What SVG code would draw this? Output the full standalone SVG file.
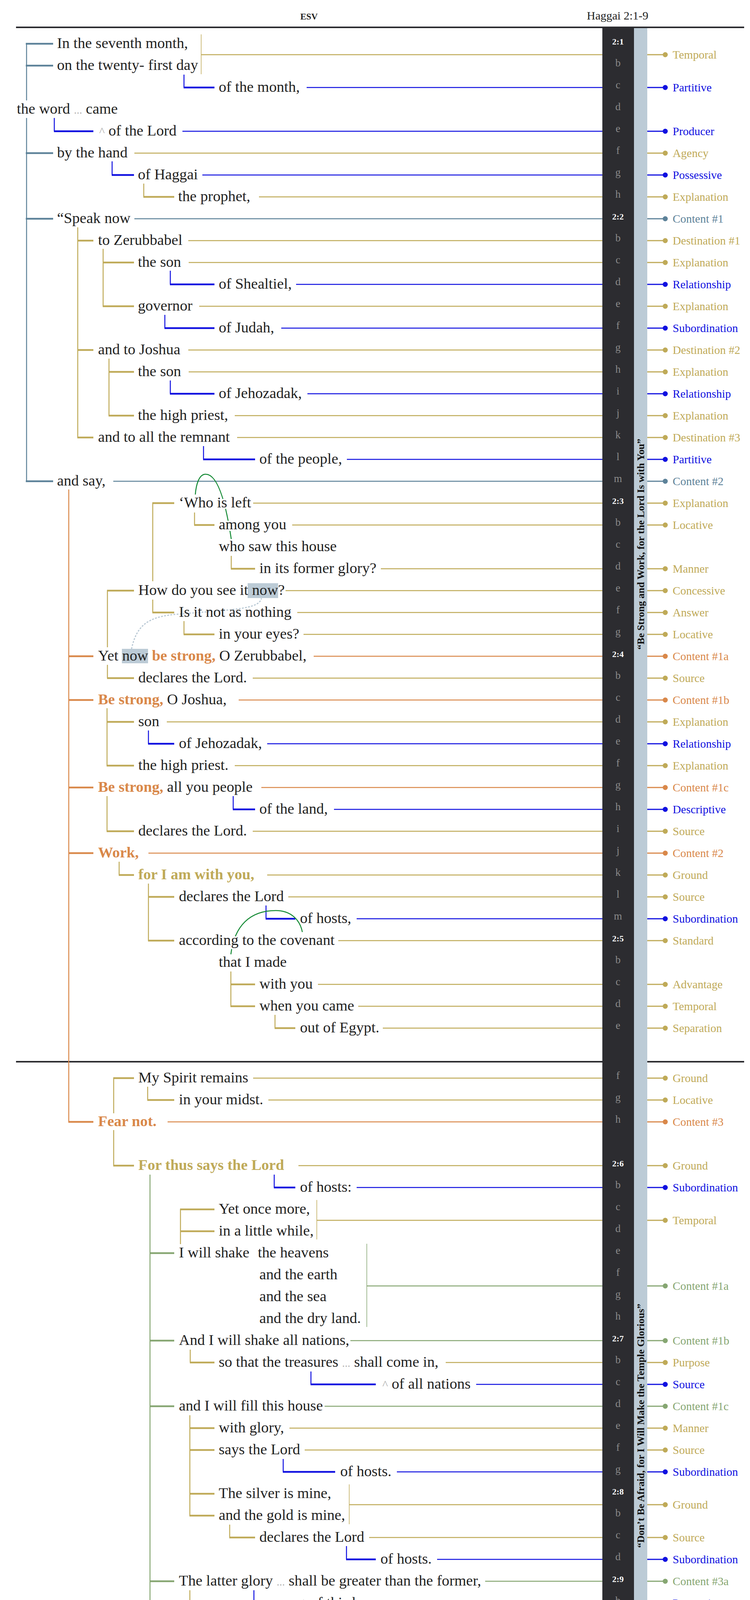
<svg xmlns="http://www.w3.org/2000/svg" width="1920" height="4600" viewBox="0 0 1920 4600">
<defs>
<style>
.t{font-family:"Liberation Serif","Times New Roman",serif;font-size:38.7px;fill:#222}
.b{font-weight:bold}
.fo{fill:#d9884a}.fg{fill:#bfaa58}
.gr{fill:#aaa;font-size:28px}
.car{fill:#aaa;font-size:30px}
.halo{stroke:#fff;stroke-width:8;stroke-linejoin:round;paint-order:stroke}
.lb{font-family:"Liberation Serif","Times New Roman",serif;font-size:29.5px}
.vl{font-family:"Liberation Serif","Times New Roman",serif;font-size:27px;fill:#8a8a8a;text-anchor:middle}
.vn{font-family:"Liberation Serif","Times New Roman",serif;font-size:22px;font-weight:bold;fill:#fff;text-anchor:middle}
.ttl{font-family:"Liberation Serif","Times New Roman",serif;font-size:26px;font-weight:bold;fill:#111;text-anchor:middle}
.hd{font-family:"Liberation Serif","Times New Roman",serif;fill:#222}
line,path{fill:none}
.ln{stroke-width:2.5}
.st{stroke-width:4.5}
.v{stroke-width:2.5}
.br{stroke-width:1.5}
.s-steel{stroke:#5d8299}.s-gold{stroke:#bfaa58}.s-blue{stroke:#1010e0}.s-orange{stroke:#d9884a}.s-sage{stroke:#86a672}
.f-steel{fill:#5d8299}.f-gold{fill:#bfaa58}.f-blue{fill:#1010e0}.f-orange{fill:#d9884a}.f-sage{fill:#86a672}
</style>
<marker id="a-steel" viewBox="0 0 14 10" refX="12" refY="5" markerWidth="14" markerHeight="10" markerUnits="userSpaceOnUse" orient="auto"><path d="M0,0 L14,5 L0,10 L3,5 z" fill="#5d8299"/></marker>
<marker id="a-gold" viewBox="0 0 14 10" refX="12" refY="5" markerWidth="14" markerHeight="10" markerUnits="userSpaceOnUse" orient="auto"><path d="M0,0 L14,5 L0,10 L3,5 z" fill="#bfaa58"/></marker>
<marker id="a-blue" viewBox="0 0 14 10" refX="12" refY="5" markerWidth="14" markerHeight="10" markerUnits="userSpaceOnUse" orient="auto"><path d="M0,0 L14,5 L0,10 L3,5 z" fill="#1010e0"/></marker>
<marker id="a-orange" viewBox="0 0 14 10" refX="12" refY="5" markerWidth="14" markerHeight="10" markerUnits="userSpaceOnUse" orient="auto"><path d="M0,0 L14,5 L0,10 L3,5 z" fill="#d9884a"/></marker>
<marker id="a-sage" viewBox="0 0 14 10" refX="12" refY="5" markerWidth="14" markerHeight="10" markerUnits="userSpaceOnUse" orient="auto"><path d="M0,0 L14,5 L0,10 L3,5 z" fill="#86a672"/></marker>
<marker id="a-green" viewBox="0 0 14 10" refX="12" refY="5" markerWidth="14" markerHeight="10" markerUnits="userSpaceOnUse" orient="auto"><path d="M0,0 L14,5 L0,10 L3,5 z" fill="#158a35"/></marker>
<marker id="a-light" viewBox="0 0 14 10" refX="12" refY="5" markerWidth="14" markerHeight="10" markerUnits="userSpaceOnUse" orient="auto"><path d="M0,0 L14,5 L0,10 L3,5 z" fill="#b8c8d4"/></marker>
</defs>
<rect width="1920" height="4600" fill="#fff"/>

<g id="frame">
<text class="hd b" x="791" y="50" font-size="23" text-anchor="middle">ESV</text>
<text class="hd" x="1581" y="50" font-size="30" text-anchor="middle">Haggai 2:1-9</text>
<line x1="41" y1="70" x2="1905" y2="70" stroke="#2c2c30" stroke-width="4"/>
<line x1="41" y1="2718" x2="1905" y2="2718" stroke="#2c2c30" stroke-width="4"/>
<rect x="1542" y="72" width="81" height="4508" fill="#2c2c30"/>
<rect x="1623" y="72" width="34" height="4508" fill="#bccbd6"/>
<text class="ttl" transform="translate(1640,1393) rotate(-90)" x="0" y="8.5" textLength="540" lengthAdjust="spacingAndGlyphs">“Be Strong and Work, for the Lord Is with You”</text>
<text class="ttl" transform="translate(1640,3650) rotate(-90)" x="0" y="8.5" textLength="625" lengthAdjust="spacingAndGlyphs">“Don’t Be Afraid, for I Will Make the Temple Glorious”</text>
</g>

<g id="connectors">
<path class="v s-steel" d="M68,110 L68,257" marker-end="url(#a-steel)"/>
<path class="v s-steel" d="M68,1233 L68,302" marker-end="url(#a-steel)"/>
<path class="st s-steel" d="M66,112 H136 M66,168 H136 M66,392 H136 M66,560 H136 M66,1232 H136"/>
<path class="ln s-steel" d="M344,560 H1542 M290,1232 H1542"/>
<path class="br s-gold" d="M515,88 V190"/>
<path class="ln s-gold" d="M515,140 H1542"/>
<path class="v s-blue" d="M471,224 L471,191" marker-end="url(#a-blue)"/>
<path class="st s-blue" d="M470,224 H549"/>
<path class="ln s-blue" d="M785,224 H1542"/>
<path class="v s-blue" d="M139,336 L139,302" marker-end="url(#a-blue)"/>
<path class="st s-blue" d="M138,336 H239"/>
<path class="ln s-blue" d="M467,336 H1542"/>
<path class="ln s-gold" d="M344,392 H1542"/>
<path class="v s-blue" d="M287,448 L287,413" marker-end="url(#a-blue)"/>
<path class="st s-blue" d="M286,448 H343"/>
<path class="ln s-blue" d="M518,448 H1542"/>
<path class="v s-gold" d="M368,504 L368,470" marker-end="url(#a-gold)"/>
<path class="st s-gold" d="M367,504 H446"/>
<path class="ln s-gold" d="M663,504 H1542"/>
<path class="v s-gold" d="M199,1121 L199,582" marker-end="url(#a-gold)"/>
<path class="st s-gold" d="M198,616 H239 M198,896 H239 M198,1120 H239"/>
<path class="ln s-gold" d="M482,616 H1542"/>
<path class="v s-gold" d="M264,785 L264,637" marker-end="url(#a-gold)"/>
<path class="st s-gold" d="M263,672 H343 M263,784 H343"/>
<path class="ln s-gold" d="M483,672 H1542"/>
<path class="v s-blue" d="M436,728 L436,693" marker-end="url(#a-blue)"/>
<path class="st s-blue" d="M435,728 H549"/>
<path class="ln s-blue" d="M758,728 H1542"/>
<path class="ln s-gold" d="M510,784 H1542"/>
<path class="v s-blue" d="M422,840 L422,806" marker-end="url(#a-blue)"/>
<path class="st s-blue" d="M421,840 H549"/>
<path class="ln s-blue" d="M720,840 H1542"/>
<path class="ln s-gold" d="M482,896 H1542"/>
<path class="v s-gold" d="M279,1065 L279,918" marker-end="url(#a-gold)"/>
<path class="st s-gold" d="M278,952 H343 M278,1064 H343"/>
<path class="ln s-gold" d="M483,952 H1542"/>
<path class="v s-blue" d="M436,1008 L436,974" marker-end="url(#a-blue)"/>
<path class="st s-blue" d="M435,1008 H549"/>
<path class="ln s-blue" d="M787,1008 H1542"/>
<path class="ln s-gold" d="M601,1064 H1542"/>
<path class="ln s-gold" d="M607,1120 H1542"/>
<path class="v s-blue" d="M521,1176 L521,1142" marker-end="url(#a-blue)"/>
<path class="st s-blue" d="M520,1176 H653"/>
<path class="ln s-blue" d="M888,1176 H1542"/>
<path class="v s-orange" d="M176,2873 L176,1253" marker-end="url(#a-orange)"/>
<path class="st s-orange" d="M175,1680 H239 M175,1792 H239 M175,2016 H239 M175,2184 H239 M175,2872 H239"/>
<path class="v s-gold" d="M391,1287 L391,1488" marker-end="url(#a-gold)"/>
<path class="st s-gold" d="M390,1288 H446"/>
<path class="ln s-gold" d="M648,1288 H1542"/>
<path class="v s-gold" d="M498,1344 L498,1312" marker-end="url(#a-gold)"/>
<path class="st s-gold" d="M497,1344 H549"/>
<path class="ln s-gold" d="M748,1344 H1542"/>
<path d="M592,1380 C580,1300 560,1215 527,1214 C510,1213 502,1240 500,1266" stroke="#158a35" stroke-width="2.5" marker-end="url(#a-green)"/>
<path class="v s-gold" d="M592,1456 L592,1423" marker-end="url(#a-gold)"/>
<path class="st s-gold" d="M591,1456 H653"/>
<path class="ln s-gold" d="M975,1456 H1542"/>
<path class="v s-gold" d="M275,1511 L275,1657" marker-end="url(#a-gold)"/>
<path class="st s-gold" d="M274,1512 H343"/>
<path class="ln s-gold" d="M731,1512 H1542"/>
<path class="v s-gold" d="M391,1568 L391,1535" marker-end="url(#a-gold)"/>
<path class="st s-gold" d="M390,1568 H446"/>
<path class="ln s-gold" d="M761,1568 H1542"/>
<path class="v s-gold" d="M471,1624 L471,1590" marker-end="url(#a-gold)"/>
<path class="st s-gold" d="M470,1624 H549"/>
<path class="ln s-gold" d="M777,1624 H1542"/>
<path d="M337,1660 C350,1600 380,1580 446,1573 C600,1560 660,1560 669,1533" stroke="#b8c8d4" stroke-width="3" stroke-dasharray="2,6" stroke-linecap="round" marker-end="url(#a-light)"/>
<path class="ln s-orange" d="M803,1680 H1542"/>
<path class="v s-gold" d="M275,1736 L275,1702" marker-end="url(#a-gold)"/>
<path class="st s-gold" d="M274,1736 H343"/>
<path class="ln s-gold" d="M647,1736 H1542"/>
<path class="ln s-orange" d="M611,1792 H1542"/>
<path class="v s-gold" d="M274,1961 L274,1813" marker-end="url(#a-gold)"/>
<path class="st s-gold" d="M273,1848 H343 M273,1960 H343"/>
<path class="ln s-gold" d="M427,1848 H1542"/>
<path class="v s-blue" d="M380,1904 L380,1870" marker-end="url(#a-blue)"/>
<path class="st s-blue" d="M379,1904 H446"/>
<path class="ln s-blue" d="M684,1904 H1542"/>
<path class="ln s-gold" d="M601,1960 H1542"/>
<path class="ln s-orange" d="M669,2016 H1542"/>
<path class="v s-blue" d="M597,2072 L597,2038" marker-end="url(#a-blue)"/>
<path class="st s-blue" d="M596,2072 H653"/>
<path class="ln s-blue" d="M855,2072 H1542"/>
<path class="v s-gold" d="M274,2128 L274,2038" marker-end="url(#a-gold)"/>
<path class="st s-gold" d="M273,2128 H343"/>
<path class="ln s-gold" d="M647,2128 H1542"/>
<path class="ln s-orange" d="M380,2184 H1542"/>
<path class="v s-gold" d="M305,2240 L305,2206" marker-end="url(#a-gold)"/>
<path class="st s-gold" d="M304,2240 H343"/>
<path class="ln s-gold" d="M684,2240 H1542"/>
<path class="v s-gold" d="M380,2409 L380,2262" marker-end="url(#a-gold)"/>
<path class="st s-gold" d="M379,2296 H446 M379,2408 H446"/>
<path class="ln s-gold" d="M738,2296 H1542"/>
<path class="v s-blue" d="M681,2352 L681,2318" marker-end="url(#a-blue)"/>
<path class="st s-blue" d="M680,2352 H756"/>
<path class="ln s-blue" d="M913,2352 H1542"/>
<path d="M591,2443 C600,2370 640,2331 706,2331 C745,2331 768,2355 774,2386" stroke="#158a35" stroke-width="2.5" marker-end="url(#a-green)"/>
<path class="ln s-gold" d="M866,2408 H1542"/>
<path class="v s-gold" d="M591,2577 L591,2487" marker-end="url(#a-gold)"/>
<path class="st s-gold" d="M590,2520 H653 M590,2576 H653"/>
<path class="ln s-gold" d="M814,2520 H1542"/>
<path class="ln s-gold" d="M917,2576 H1542"/>
<path class="v s-gold" d="M704,2632 L704,2598" marker-end="url(#a-gold)"/>
<path class="st s-gold" d="M703,2632 H756"/>
<path class="ln s-gold" d="M980,2632 H1542"/>
<path class="v s-gold" d="M291,2759 L291,2850" marker-end="url(#a-gold)"/>
<path class="st s-gold" d="M290,2760 H343"/>
<path class="ln s-gold" d="M648,2760 H1542"/>
<path class="v s-gold" d="M378,2816 L378,2782" marker-end="url(#a-gold)"/>
<path class="st s-gold" d="M377,2816 H446"/>
<path class="ln s-gold" d="M687,2816 H1542"/>
<path class="ln s-orange" d="M429,2872 H1542"/>
<path class="v s-gold" d="M291,2985 L291,2893" marker-end="url(#a-gold)"/>
<path class="st s-gold" d="M290,2984 H343"/>
<path class="ln s-gold" d="M764,2984 H1542"/>
<path class="v s-blue" d="M702,3040 L702,3007" marker-end="url(#a-blue)"/>
<path class="st s-blue" d="M701,3040 H756"/>
<path class="ln s-blue" d="M913,3040 H1542"/>
<path class="v s-sage" d="M384,4329 L384,3007" marker-end="url(#a-sage)"/>
<path class="st s-sage" d="M383,3208 H446 M383,3432 H446 M383,3600 H446 M383,4048 H446 M383,4328 H446"/>
<path class="v s-gold" d="M462,3095 L462,3185" marker-end="url(#a-gold)"/>
<path class="st s-gold" d="M461,3096 H549 M461,3152 H549"/>
<path class="br s-gold" d="M811,3072 V3173"/>
<path class="ln s-gold" d="M811,3124 H1542"/>
<path class="br s-sage" d="M939,3184 V3397"/>
<path class="ln s-sage" d="M939,3292 H1542"/>
<path class="ln s-sage" d="M897,3432 H1542"/>
<path class="v s-gold" d="M487,3488 L487,3455" marker-end="url(#a-gold)"/>
<path class="st s-gold" d="M486,3488 H549"/>
<path class="ln s-gold" d="M1141,3488 H1542"/>
<path class="v s-blue" d="M796,3544 L796,3511" marker-end="url(#a-blue)"/>
<path class="st s-blue" d="M795,3544 H962"/>
<path class="ln s-blue" d="M1219,3544 H1542"/>
<path class="ln s-sage" d="M831,3600 H1542"/>
<path class="v s-gold" d="M486,3881 L486,3623" marker-end="url(#a-gold)"/>
<path class="st s-gold" d="M485,3656 H549 M485,3712 H549 M485,3824 H549 M485,3880 H549"/>
<path class="ln s-gold" d="M741,3656 H1542"/>
<path class="ln s-gold" d="M780,3712 H1542"/>
<path class="v s-blue" d="M725,3768 L725,3735" marker-end="url(#a-blue)"/>
<path class="st s-blue" d="M724,3768 H858"/>
<path class="ln s-blue" d="M1016,3768 H1542"/>
<path class="br s-gold" d="M894,3800 V3902"/>
<path class="ln s-gold" d="M894,3852 H1542"/>
<path class="v s-gold" d="M588,3936 L588,3903" marker-end="url(#a-gold)"/>
<path class="st s-gold" d="M587,3936 H653"/>
<path class="ln s-gold" d="M945,3936 H1542"/>
<path class="v s-blue" d="M887,3992 L887,3958" marker-end="url(#a-blue)"/>
<path class="st s-blue" d="M886,3992 H962"/>
<path class="ln s-blue" d="M1119,3992 H1542"/>
<path class="ln s-sage" d="M1242,4048 H1542"/>
<path class="v s-blue" d="M650,4104 L650,4071" marker-end="url(#a-blue)"/>
<path class="st s-blue" d="M649,4104 H756"/>
<path class="ln s-blue" d="M1010,4104 H1542"/>
<path class="v s-gold" d="M486,4160 L486,4071" marker-end="url(#a-gold)"/>
<path class="st s-gold" d="M485,4160 H549"/>
<path class="ln s-gold" d="M780,4160 H1542"/>
<path class="v s-blue" d="M725,4216 L725,4182" marker-end="url(#a-blue)"/>
<path class="st s-blue" d="M724,4216 H858"/>
<path class="ln s-blue" d="M1016,4216 H1542"/>
<path class="ln s-sage" d="M834,4328 H1542"/>
<path class="v s-gold" d="M487,4441 L487,4352" marker-end="url(#a-gold)"/>
<path class="st s-gold" d="M486,4384 H549 M486,4440 H549"/>
<path class="ln s-gold" d="M793,4384 H1542"/>
<path class="ln s-gold" d="M841,4440 H1542"/>
<path class="v s-blue" d="M784,4496 L784,4463" marker-end="url(#a-blue)"/>
<path class="st s-blue" d="M783,4496 H858"/>
<path class="ln s-blue" d="M1038,4496 H1542"/>
<g id="ticks" stroke-width="3">
<path class="s-gold" d="M1657,140 H1703 M1657,392 H1703 M1657,504 H1703 M1657,616 H1703 M1657,672 H1703 M1657,784 H1703 M1657,896 H1703 M1657,952 H1703 M1657,1064 H1703 M1657,1120 H1703 M1657,1288 H1703 M1657,1344 H1703 M1657,1456 H1703 M1657,1512 H1703 M1657,1568 H1703 M1657,1624 H1703 M1657,1736 H1703 M1657,1848 H1703 M1657,1960 H1703 M1657,2128 H1703 M1657,2240 H1703 M1657,2296 H1703 M1657,2408 H1703 M1657,2520 H1703 M1657,2576 H1703 M1657,2632 H1703 M1657,2760 H1703 M1657,2816 H1703 M1657,2984 H1703 M1657,3124 H1703 M1657,3488 H1703 M1657,3656 H1703 M1657,3712 H1703 M1657,3852 H1703 M1657,3936 H1703 M1657,4160 H1703 M1657,4384 H1703 M1657,4440 H1703"/>
<path class="s-blue" d="M1657,224 H1703 M1657,336 H1703 M1657,448 H1703 M1657,728 H1703 M1657,840 H1703 M1657,1008 H1703 M1657,1176 H1703 M1657,1904 H1703 M1657,2072 H1703 M1657,2352 H1703 M1657,3040 H1703 M1657,3544 H1703 M1657,3768 H1703 M1657,3992 H1703 M1657,4104 H1703 M1657,4216 H1703 M1657,4496 H1703"/>
<path class="s-steel" d="M1657,560 H1703 M1657,1232 H1703"/>
<path class="s-orange" d="M1657,1680 H1703 M1657,1792 H1703 M1657,2016 H1703 M1657,2184 H1703 M1657,2872 H1703"/>
<path class="s-sage" d="M1657,3292 H1703 M1657,3432 H1703 M1657,3600 H1703 M1657,4048 H1703 M1657,4328 H1703"/>
</g>
<g id="dots">
<g class="f-gold"><circle cx="1703" cy="140" r="6.5"/><circle cx="1703" cy="392" r="6.5"/><circle cx="1703" cy="504" r="6.5"/><circle cx="1703" cy="616" r="6.5"/><circle cx="1703" cy="672" r="6.5"/><circle cx="1703" cy="784" r="6.5"/><circle cx="1703" cy="896" r="6.5"/><circle cx="1703" cy="952" r="6.5"/><circle cx="1703" cy="1064" r="6.5"/><circle cx="1703" cy="1120" r="6.5"/><circle cx="1703" cy="1288" r="6.5"/><circle cx="1703" cy="1344" r="6.5"/><circle cx="1703" cy="1456" r="6.5"/><circle cx="1703" cy="1512" r="6.5"/><circle cx="1703" cy="1568" r="6.5"/><circle cx="1703" cy="1624" r="6.5"/><circle cx="1703" cy="1736" r="6.5"/><circle cx="1703" cy="1848" r="6.5"/><circle cx="1703" cy="1960" r="6.5"/><circle cx="1703" cy="2128" r="6.5"/><circle cx="1703" cy="2240" r="6.5"/><circle cx="1703" cy="2296" r="6.5"/><circle cx="1703" cy="2408" r="6.5"/><circle cx="1703" cy="2520" r="6.5"/><circle cx="1703" cy="2576" r="6.5"/><circle cx="1703" cy="2632" r="6.5"/><circle cx="1703" cy="2760" r="6.5"/><circle cx="1703" cy="2816" r="6.5"/><circle cx="1703" cy="2984" r="6.5"/><circle cx="1703" cy="3124" r="6.5"/><circle cx="1703" cy="3488" r="6.5"/><circle cx="1703" cy="3656" r="6.5"/><circle cx="1703" cy="3712" r="6.5"/><circle cx="1703" cy="3852" r="6.5"/><circle cx="1703" cy="3936" r="6.5"/><circle cx="1703" cy="4160" r="6.5"/><circle cx="1703" cy="4384" r="6.5"/><circle cx="1703" cy="4440" r="6.5"/></g>
<g class="f-blue"><circle cx="1703" cy="224" r="6.5"/><circle cx="1703" cy="336" r="6.5"/><circle cx="1703" cy="448" r="6.5"/><circle cx="1703" cy="728" r="6.5"/><circle cx="1703" cy="840" r="6.5"/><circle cx="1703" cy="1008" r="6.5"/><circle cx="1703" cy="1176" r="6.5"/><circle cx="1703" cy="1904" r="6.5"/><circle cx="1703" cy="2072" r="6.5"/><circle cx="1703" cy="2352" r="6.5"/><circle cx="1703" cy="3040" r="6.5"/><circle cx="1703" cy="3544" r="6.5"/><circle cx="1703" cy="3768" r="6.5"/><circle cx="1703" cy="3992" r="6.5"/><circle cx="1703" cy="4104" r="6.5"/><circle cx="1703" cy="4216" r="6.5"/><circle cx="1703" cy="4496" r="6.5"/></g>
<g class="f-steel"><circle cx="1703" cy="560" r="6.5"/><circle cx="1703" cy="1232" r="6.5"/></g>
<g class="f-orange"><circle cx="1703" cy="1680" r="6.5"/><circle cx="1703" cy="1792" r="6.5"/><circle cx="1703" cy="2016" r="6.5"/><circle cx="1703" cy="2184" r="6.5"/><circle cx="1703" cy="2872" r="6.5"/></g>
<g class="f-sage"><circle cx="1703" cy="3292" r="6.5"/><circle cx="1703" cy="3432" r="6.5"/><circle cx="1703" cy="3600" r="6.5"/><circle cx="1703" cy="4048" r="6.5"/><circle cx="1703" cy="4328" r="6.5"/></g>
</g>
</g>

<g id="highlights">
<rect x="634" y="1493" width="78" height="38" fill="#bccbd6"/>
<rect x="312" y="1661" width="67" height="37" fill="#bccbd6"/>
</g>

<g id="nodes">
<g id="n2-1a"><text class="t" x="146" y="123">In the seventh month,</text></g>
<g id="n2-1b"><text class="t" x="146" y="179">on the twenty- first day</text></g>
<g id="n2-1c"><text class="t" x="560" y="235">of the month,</text></g>
<g id="n2-1d"><text class="t" x="43" y="291">the word <tspan class="gr">...</tspan> came</text></g>
<g id="n2-1e"><text class="t" x="254" y="347"><tspan class="car">^</tspan> of the Lord</text></g>
<g id="n2-1f"><text class="t" x="146" y="403">by the hand</text></g>
<g id="n2-1g"><text class="t" x="353" y="459">of Haggai</text></g>
<g id="n2-1h"><text class="t" x="456" y="515">the prophet,</text></g>
<g id="n2-2a"><text class="t" x="146" y="571">“Speak now</text></g>
<g id="n2-2b"><text class="t" x="251" y="627">to Zerubbabel</text></g>
<g id="n2-2c"><text class="t" x="353" y="683">the son</text></g>
<g id="n2-2d"><text class="t" x="560" y="739">of Shealtiel,</text></g>
<g id="n2-2e"><text class="t" x="353" y="795">governor</text></g>
<g id="n2-2f"><text class="t" x="560" y="851">of Judah,</text></g>
<g id="n2-2g"><text class="t" x="251" y="907">and to Joshua</text></g>
<g id="n2-2h"><text class="t" x="353" y="963">the son</text></g>
<g id="n2-2i"><text class="t" x="560" y="1019">of Jehozadak,</text></g>
<g id="n2-2j"><text class="t" x="353" y="1075">the high priest,</text></g>
<g id="n2-2k"><text class="t" x="251" y="1131">and to all the remnant</text></g>
<g id="n2-2l"><text class="t" x="664" y="1187">of the people,</text></g>
<g id="n2-2m"><text class="t" x="146" y="1243">and say,</text></g>
<g id="n2-3a"><text class="t halo" x="458" y="1299">‘Who is left</text></g>
<g id="n2-3b"><text class="t halo" x="560" y="1355">among you</text></g>
<g id="n2-3c"><text class="t" x="560" y="1411">who saw this house</text></g>
<g id="n2-3d"><text class="t" x="664" y="1467">in its former glory?</text></g>
<g id="n2-3e"><text class="t" x="354" y="1523">How do you see it now?</text></g>
<g id="n2-3f"><text class="t" x="458" y="1579">Is it not as nothing</text></g>
<g id="n2-3g"><text class="t" x="560" y="1635">in your eyes?</text></g>
<g id="n2-4a"><text class="t" x="251" y="1691">Yet now <tspan class="b fo">be strong,</tspan> O Zerubbabel,</text></g>
<g id="n2-4b"><text class="t" x="354" y="1747">declares the Lord.</text></g>
<g id="n2-4c"><text class="t" x="251" y="1803"><tspan class="b fo">Be strong,</tspan> O Joshua,</text></g>
<g id="n2-4d"><text class="t" x="354" y="1859">son</text></g>
<g id="n2-4e"><text class="t" x="458" y="1915">of Jehozadak,</text></g>
<g id="n2-4f"><text class="t" x="354" y="1971">the high priest.</text></g>
<g id="n2-4g"><text class="t" x="251" y="2027"><tspan class="b fo">Be strong,</tspan> all you people</text></g>
<g id="n2-4h"><text class="t" x="664" y="2083">of the land,</text></g>
<g id="n2-4i"><text class="t" x="354" y="2139">declares the Lord.</text></g>
<g id="n2-4j"><text class="t b fo" x="251" y="2195">Work,</text></g>
<g id="n2-4k"><text class="t b fg" x="354" y="2251">for I am with you,</text></g>
<g id="n2-4l"><text class="t" x="458" y="2307">declares the Lord</text></g>
<g id="n2-4m"><text class="t halo" x="768" y="2363">of hosts,</text></g>
<g id="n2-5a"><text class="t halo" x="458" y="2419">according to the covenant</text></g>
<g id="n2-5b"><text class="t" x="560" y="2475">that I made</text></g>
<g id="n2-5c"><text class="t" x="664" y="2531">with you</text></g>
<g id="n2-5d"><text class="t" x="664" y="2587">when you came</text></g>
<g id="n2-5e"><text class="t" x="768" y="2643">out of Egypt.</text></g>
<g id="n2-5f"><text class="t" x="354" y="2771">My Spirit remains</text></g>
<g id="n2-5g"><text class="t" x="458" y="2827">in your midst.</text></g>
<g id="n2-5h"><text class="t b fo" x="251" y="2883">Fear not.</text></g>
<g id="n2-6a"><text class="t b fg" x="354" y="2995">For thus says the Lord</text></g>
<g id="n2-6b"><text class="t" x="768" y="3051">of hosts:</text></g>
<g id="n2-6c"><text class="t" x="560" y="3107">Yet once more,</text></g>
<g id="n2-6d"><text class="t" x="560" y="3163">in a little while,</text></g>
<g id="n2-6e"><text class="t" x="458" y="3219">I will shake</text><text class="t" x="660" y="3219">the heavens</text></g>
<g id="n2-6f"><text class="t" x="664" y="3275">and the earth</text></g>
<g id="n2-6g"><text class="t" x="664" y="3331">and the sea</text></g>
<g id="n2-6h"><text class="t" x="664" y="3387">and the dry land.</text></g>
<g id="n2-7a"><text class="t" x="458" y="3443">And I will shake all nations,</text></g>
<g id="n2-7b"><text class="t" x="560" y="3499">so that the treasures <tspan class="gr">...</tspan> shall come in,</text></g>
<g id="n2-7c"><text class="t" x="979" y="3555"><tspan class="car">^</tspan> of all nations</text></g>
<g id="n2-7d"><text class="t" x="458" y="3611">and I will fill this house</text></g>
<g id="n2-7e"><text class="t" x="560" y="3667">with glory,</text></g>
<g id="n2-7f"><text class="t" x="560" y="3723">says the Lord</text></g>
<g id="n2-7g"><text class="t" x="871" y="3779">of hosts.</text></g>
<g id="n2-8a"><text class="t" x="560" y="3835">The silver is mine,</text></g>
<g id="n2-8b"><text class="t" x="560" y="3891">and the gold is mine,</text></g>
<g id="n2-8c"><text class="t" x="664" y="3947">declares the Lord</text></g>
<g id="n2-8d"><text class="t" x="974" y="4003">of hosts.</text></g>
<g id="n2-9a"><text class="t" x="458" y="4059">The latter glory <tspan class="gr">...</tspan> shall be greater than the former,</text></g>
<g id="n2-9b"><text class="t" x="770" y="4115"><tspan class="car">^</tspan> of this house</text></g>
<g id="n2-9c"><text class="t" x="560" y="4171">says the Lord</text></g>
<g id="n2-9d"><text class="t" x="871" y="4227">of hosts.</text></g>
<g id="n2-9e"><text class="t" x="458" y="4339">And <tspan class="gr">...</tspan> I will give peace,</text></g>
<g id="n2-9f"><text class="t" x="564" y="4395"><tspan class="car">^</tspan> in this place</text></g>
<g id="n2-9g"><text class="t" x="560" y="4451">declares the Lord</text></g>
<g id="n2-9h"><text class="t" x="871" y="4507">of hosts.’”</text></g>
</g>

<g id="verse-labels">
<text class="vn" x="1582" y="114">2:1</text>
<text class="vl" x="1582" y="170">b</text><text class="vl" x="1582" y="226">c</text><text class="vl" x="1582" y="282">d</text><text class="vl" x="1582" y="338">e</text><text class="vl" x="1582" y="394">f</text><text class="vl" x="1582" y="450">g</text><text class="vl" x="1582" y="506">h</text>
<text class="vn" x="1582" y="562">2:2</text>
<text class="vl" x="1582" y="618">b</text><text class="vl" x="1582" y="674">c</text><text class="vl" x="1582" y="730">d</text><text class="vl" x="1582" y="786">e</text><text class="vl" x="1582" y="842">f</text><text class="vl" x="1582" y="898">g</text><text class="vl" x="1582" y="954">h</text><text class="vl" x="1582" y="1010">i</text><text class="vl" x="1582" y="1066">j</text><text class="vl" x="1582" y="1122">k</text><text class="vl" x="1582" y="1178">l</text><text class="vl" x="1582" y="1234">m</text>
<text class="vn" x="1582" y="1290">2:3</text>
<text class="vl" x="1582" y="1346">b</text><text class="vl" x="1582" y="1402">c</text><text class="vl" x="1582" y="1458">d</text><text class="vl" x="1582" y="1514">e</text><text class="vl" x="1582" y="1570">f</text><text class="vl" x="1582" y="1626">g</text>
<text class="vn" x="1582" y="1682">2:4</text>
<text class="vl" x="1582" y="1738">b</text><text class="vl" x="1582" y="1794">c</text><text class="vl" x="1582" y="1850">d</text><text class="vl" x="1582" y="1906">e</text><text class="vl" x="1582" y="1962">f</text><text class="vl" x="1582" y="2018">g</text><text class="vl" x="1582" y="2074">h</text><text class="vl" x="1582" y="2130">i</text><text class="vl" x="1582" y="2186">j</text><text class="vl" x="1582" y="2242">k</text><text class="vl" x="1582" y="2298">l</text><text class="vl" x="1582" y="2354">m</text>
<text class="vn" x="1582" y="2410">2:5</text>
<text class="vl" x="1582" y="2466">b</text><text class="vl" x="1582" y="2522">c</text><text class="vl" x="1582" y="2578">d</text><text class="vl" x="1582" y="2634">e</text><text class="vl" x="1582" y="2762">f</text><text class="vl" x="1582" y="2818">g</text><text class="vl" x="1582" y="2874">h</text>
<text class="vn" x="1582" y="2986">2:6</text>
<text class="vl" x="1582" y="3042">b</text><text class="vl" x="1582" y="3098">c</text><text class="vl" x="1582" y="3154">d</text><text class="vl" x="1582" y="3210">e</text><text class="vl" x="1582" y="3266">f</text><text class="vl" x="1582" y="3322">g</text><text class="vl" x="1582" y="3378">h</text>
<text class="vn" x="1582" y="3434">2:7</text>
<text class="vl" x="1582" y="3490">b</text><text class="vl" x="1582" y="3546">c</text><text class="vl" x="1582" y="3602">d</text><text class="vl" x="1582" y="3658">e</text><text class="vl" x="1582" y="3714">f</text><text class="vl" x="1582" y="3770">g</text>
<text class="vn" x="1582" y="3826">2:8</text>
<text class="vl" x="1582" y="3882">b</text><text class="vl" x="1582" y="3938">c</text><text class="vl" x="1582" y="3994">d</text>
<text class="vn" x="1582" y="4050">2:9</text>
<text class="vl" x="1582" y="4106">b</text><text class="vl" x="1582" y="4162">c</text><text class="vl" x="1582" y="4218">d</text><text class="vl" x="1582" y="4330">e</text><text class="vl" x="1582" y="4386">f</text><text class="vl" x="1582" y="4442">g</text><text class="vl" x="1582" y="4498">h</text>
</g>

<g id="relation-labels">
<g class="lb f-gold">
<text x="1722" y="150">Temporal</text><text x="1722" y="402">Agency</text><text x="1722" y="514">Explanation</text><text x="1722" y="626">Destination #1</text><text x="1722" y="682">Explanation</text><text x="1722" y="794">Explanation</text><text x="1722" y="906">Destination #2</text><text x="1722" y="962">Explanation</text><text x="1722" y="1074">Explanation</text><text x="1722" y="1130">Destination #3</text><text x="1722" y="1298">Explanation</text><text x="1722" y="1354">Locative</text><text x="1722" y="1466">Manner</text><text x="1722" y="1522">Concessive</text><text x="1722" y="1578">Answer</text><text x="1722" y="1634">Locative</text><text x="1722" y="1746">Source</text><text x="1722" y="1858">Explanation</text><text x="1722" y="1970">Explanation</text><text x="1722" y="2138">Source</text><text x="1722" y="2250">Ground</text><text x="1722" y="2306">Source</text><text x="1722" y="2418">Standard</text><text x="1722" y="2530">Advantage</text><text x="1722" y="2586">Temporal</text><text x="1722" y="2642">Separation</text><text x="1722" y="2770">Ground</text><text x="1722" y="2826">Locative</text><text x="1722" y="2994">Ground</text><text x="1722" y="3134">Temporal</text><text x="1722" y="3498">Purpose</text><text x="1722" y="3666">Manner</text><text x="1722" y="3722">Source</text><text x="1722" y="3862">Ground</text><text x="1722" y="3946">Source</text><text x="1722" y="4170">Source</text><text x="1722" y="4394">Locative</text><text x="1722" y="4450">Source</text>
</g>
<g class="lb f-blue">
<text x="1722" y="234">Partitive</text><text x="1722" y="346">Producer</text><text x="1722" y="458">Possessive</text><text x="1722" y="738">Relationship</text><text x="1722" y="850">Subordination</text><text x="1722" y="1018">Relationship</text><text x="1722" y="1186">Partitive</text><text x="1722" y="1914">Relationship</text><text x="1722" y="2082">Descriptive</text><text x="1722" y="2362">Subordination</text><text x="1722" y="3050">Subordination</text><text x="1722" y="3554">Source</text><text x="1722" y="3778">Subordination</text><text x="1722" y="4002">Subordination</text><text x="1722" y="4114">Possessive</text><text x="1722" y="4226">Subordination</text><text x="1722" y="4506">Subordination</text>
</g>
<g class="lb f-steel">
<text x="1722" y="570">Content #1</text><text x="1722" y="1242">Content #2</text>
</g>
<g class="lb f-orange">
<text x="1722" y="1690">Content #1a</text><text x="1722" y="1802">Content #1b</text><text x="1722" y="2026">Content #1c</text><text x="1722" y="2194">Content #2</text><text x="1722" y="2882">Content #3</text>
</g>
<g class="lb f-sage">
<text x="1722" y="3302">Content #1a</text><text x="1722" y="3442">Content #1b</text><text x="1722" y="3610">Content #1c</text><text x="1722" y="4058">Content #3a</text><text x="1722" y="4338">Content #3b</text>
</g>
</g>
</svg>
